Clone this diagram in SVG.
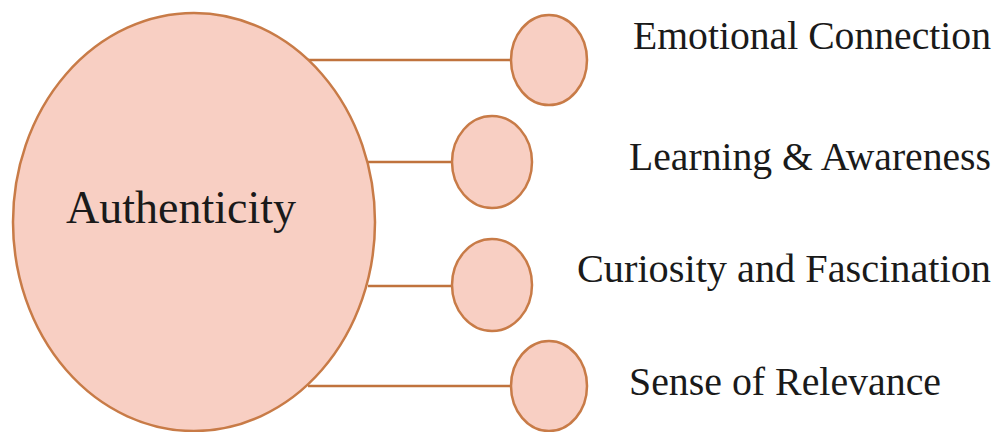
<svg xmlns="http://www.w3.org/2000/svg" width="1007" height="432" viewBox="0 0 1007 432">
<style>
.node{fill:#F8CFC3;stroke:#C87B47;stroke-width:2.5}
.conn{stroke:#C0733D;stroke-width:2.5;fill:none}
.lbl{font-family:"Liberation Serif","Times New Roman",serif;fill:#1a1a1a}
</style>
<rect width="1007" height="432" fill="#ffffff"/>
<g id="connectors">
<line class="conn" x1="308" y1="60" x2="511" y2="60"/>
<line class="conn" x1="368" y1="162" x2="453" y2="162"/>
<line class="conn" x1="368" y1="286" x2="453" y2="286"/>
<line class="conn" x1="308" y1="386" x2="511" y2="386"/>
</g>
<g id="authenticity">
<ellipse class="node" cx="194" cy="222" rx="181" ry="209"/>
<text class="lbl" x="66" y="223" font-size="46" textLength="230" lengthAdjust="spacingAndGlyphs">Authenticity</text>
</g>
<g id="emotional">
<ellipse class="node" cx="549" cy="60" rx="38" ry="45"/>
<text class="lbl" x="633" y="49" font-size="40" textLength="358" lengthAdjust="spacingAndGlyphs">Emotional Connection</text>
</g>
<g id="learning">
<ellipse class="node" cx="492" cy="162" rx="40" ry="46"/>
<text class="lbl" x="629" y="170" font-size="40" textLength="362" lengthAdjust="spacingAndGlyphs">Learning &amp; Awareness</text>
</g>
<g id="curiosity">
<ellipse class="node" cx="492" cy="285" rx="40" ry="46"/>
<text class="lbl" x="577" y="282" font-size="40" textLength="414" lengthAdjust="spacingAndGlyphs">Curiosity and Fascination</text>
</g>
<g id="relevance">
<ellipse class="node" cx="549" cy="386" rx="38" ry="45"/>
<text class="lbl" x="629" y="395" font-size="40" textLength="312" lengthAdjust="spacingAndGlyphs">Sense of Relevance</text>
</g>
</svg>
